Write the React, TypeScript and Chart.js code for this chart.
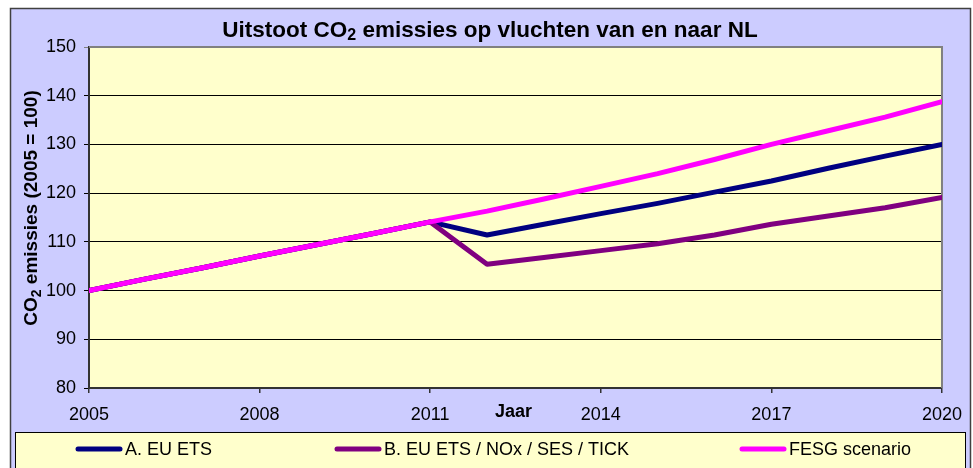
import React, { useEffect, useRef } from "react";
import { Chart, registerables } from "chart.js";

Chart.register(...registerables);

// ---- data ----
const years = [2005, 2006, 2007, 2008, 2009, 2010, 2011, 2012, 2013, 2014, 2015, 2016, 2017, 2018, 2019, 2020];
const euEts = [100, 102.4, 104.7, 107.1, 109.4, 111.7, 114.1, 111.4, 113.6, 115.8, 117.9, 120.2, 122.5, 125.1, 127.6, 130.0];
const euEtsNoxSesTick = [100, 102.4, 104.7, 107.1, 109.4, 111.7, 114.1, 105.4, 106.8, 108.2, 109.6, 111.4, 113.6, 115.3, 117.0, 119.1];
const fesgScenario = [100, 102.4, 104.7, 107.1, 109.4, 111.7, 114.1, 116.3, 118.8, 121.4, 124.0, 126.9, 130.0, 132.8, 135.6, 138.8];
const seriesLabels = ["A. EU ETS", "B. EU ETS / NOx / SES / TICK", "FESG scenario"];
const seriesColors = ["#000080", "#800080", "#FF00FF"];
const titleMain = "Uitstoot CO";
const titleSub = "2";
const titleRest = " emissies op vluchten van en naar NL";
const yTitleMain = "CO";
const yTitleSub = "2";
const yTitleRest = " emissies (2005 = 100)";
const xTitle = "Jaar";
const xMin = 2005, xMax = 2020, xStep = 3;
const yMin = 80, yMax = 150, yStep = 10;

const FONT = '"Liberation Sans", Arial, Helvetica, sans-serif';

function drawSubText(ctx: CanvasRenderingContext2D, x: number, y: number, main: string, sub: string, rest: string, size: number, subSize: number, subOff: number, align: "center" | "left") {
  ctx.font = `bold ${size}px ${FONT}`;
  const w1 = ctx.measureText(main).width;
  const w3 = ctx.measureText(rest).width;
  ctx.font = `bold ${subSize}px ${FONT}`;
  const w2 = ctx.measureText(sub).width;
  const total = w1 + w2 + w3;
  let sx = align === "center" ? x - total / 2 : x;
  ctx.textAlign = "left";
  ctx.textBaseline = "alphabetic";
  ctx.font = `bold ${size}px ${FONT}`;
  ctx.fillText(main, sx, y);
  ctx.font = `bold ${subSize}px ${FONT}`;
  ctx.fillText(sub, sx + w1, y + subOff);
  ctx.font = `bold ${size}px ${FONT}`;
  ctx.fillText(rest, sx + w1 + w2, y);
}

const decorPlugin = {
  id: "decor",
  beforeDraw(chart: any) {
    const { ctx, chartArea: a } = chart;
    ctx.save();
    ctx.fillStyle = "#FFFFFF";
    ctx.fillRect(0, 0, chart.width, chart.height);
    ctx.fillStyle = "#CCCCFF";
    ctx.fillRect(10, 8, 960, 480);
    ctx.strokeStyle = "#404040";
    ctx.lineWidth = 1.5;
    ctx.strokeRect(10.5, 8.5, 960, 480);
    ctx.fillStyle = "#FFFFCC";
    ctx.fillRect(a.left, a.top, a.right - a.left, a.bottom - a.top);
    ctx.restore();
  },
  beforeDatasetsDraw(chart: any) {
    const { ctx, chartArea: a } = chart;
    ctx.save();
    ctx.strokeStyle = "#808080";
    ctx.lineWidth = 2;
    ctx.beginPath();
    ctx.moveTo(a.left, a.top);
    ctx.lineTo(a.right, a.top);
    ctx.lineTo(a.right, a.bottom);
    ctx.stroke();
    ctx.restore();
  },
  afterDraw(chart: any) {
    const { ctx, chartArea: a } = chart;
    ctx.save();
    ctx.fillStyle = "#000";
    // title
    drawSubText(ctx, 490, 37, titleMain, titleSub, titleRest, 22.5, 16, 3, "center");
    // y title
    ctx.save();
    ctx.translate(37, 208);
    ctx.rotate(-Math.PI / 2);
    drawSubText(ctx, 0, 0, yTitleMain, yTitleSub, yTitleRest, 19, 14, 4, "center");
    ctx.restore();
    // x title
    ctx.font = `bold 18px ${FONT}`;
    ctx.textAlign = "left";
    ctx.textBaseline = "alphabetic";
    ctx.fillText(xTitle, 495, a.bottom + 29);
    // legend box
    ctx.fillStyle = "#FFFFCC";
    ctx.fillRect(15, 432, 950, 60);
    ctx.strokeStyle = "#000";
    ctx.lineWidth = 1;
    ctx.strokeRect(15.5, 432.5, 950, 60);
    const itemX = [76, 335, 740];
    const ly = 449;
    chart.data.datasets.forEach((ds: any, i: number) => {
      const x0 = itemX[i];
      ctx.strokeStyle = ds.borderColor;
      ctx.lineWidth = 5;
      ctx.lineCap = "round";
      ctx.beginPath();
      ctx.moveTo(x0 + 2, ly);
      ctx.lineTo(x0 + 44, ly);
      ctx.stroke();
      ctx.fillStyle = "#000";
      ctx.font = `18px ${FONT}`;
      ctx.textBaseline = "middle";
      ctx.fillText(ds.label, x0 + 49, ly + 1);
    });
    ctx.restore();
  },
};

export default function App() {
  const ref = useRef<HTMLCanvasElement | null>(null);
  useEffect(() => {
    if (!ref.current) return;
    const seriesData = [euEts, euEtsNoxSesTick, fesgScenario];
    const chart = new Chart(ref.current, {
      type: "line",
      data: {
        datasets: seriesData.map((vals, i) => ({
          label: seriesLabels[i],
          data: years.map((x, j) => ({ x, y: vals[j] })),
          borderColor: seriesColors[i],
          backgroundColor: seriesColors[i],
          borderWidth: 5,
          pointRadius: 0,
          tension: 0,
          borderCapStyle: "round",
          borderJoinStyle: "round",
          order: 2 - i,
        })),
      },
      options: {
        responsive: false,
        animation: false,
        devicePixelRatio: 1,
        layout: { padding: { left: 0, top: 47, right: 31, bottom: 36 } },
        plugins: { legend: { display: false }, title: { display: false }, tooltip: { enabled: false } },
        scales: {
          x: {
            type: "linear",
            min: xMin,
            max: xMax,
            afterFit: (s: any) => { s.height = 44; },
            ticks: {
              stepSize: xStep,
              color: "#000",
              font: { family: FONT, size: 18 },
              padding: 11,
              maxRotation: 0,
              callback: (v: any) => String(v),
            },
            grid: { drawOnChartArea: false, drawTicks: true, tickLength: 5, color: "#333", lineWidth: 1.5 },
            border: { display: true, color: "#333", width: 2 },
          },
          y: {
            min: yMin,
            max: yMax,
            afterFit: (s: any) => { s.width = 89; },
            ticks: { stepSize: yStep, color: "#000", font: { family: FONT, size: 18 }, padding: 8 },
            grid: {
              color: (c: any) => (c.tick && c.tick.value === yMax ? "#808080" : "#000"),
              lineWidth: 1,
              tickLength: 5,
            },
            border: { display: true, color: "#333", width: 2 },
          },
        },
      },
      plugins: [decorPlugin],
    });
    return () => chart.destroy();
  }, []);
  return (
    <div style={{ position: "fixed", left: 0, top: 0, width: 973, height: 468, overflow: "hidden" }}>
      <canvas ref={ref} width={973} height={468} style={{ display: "block", width: 973, height: 468 }} />
    </div>
  );
}
